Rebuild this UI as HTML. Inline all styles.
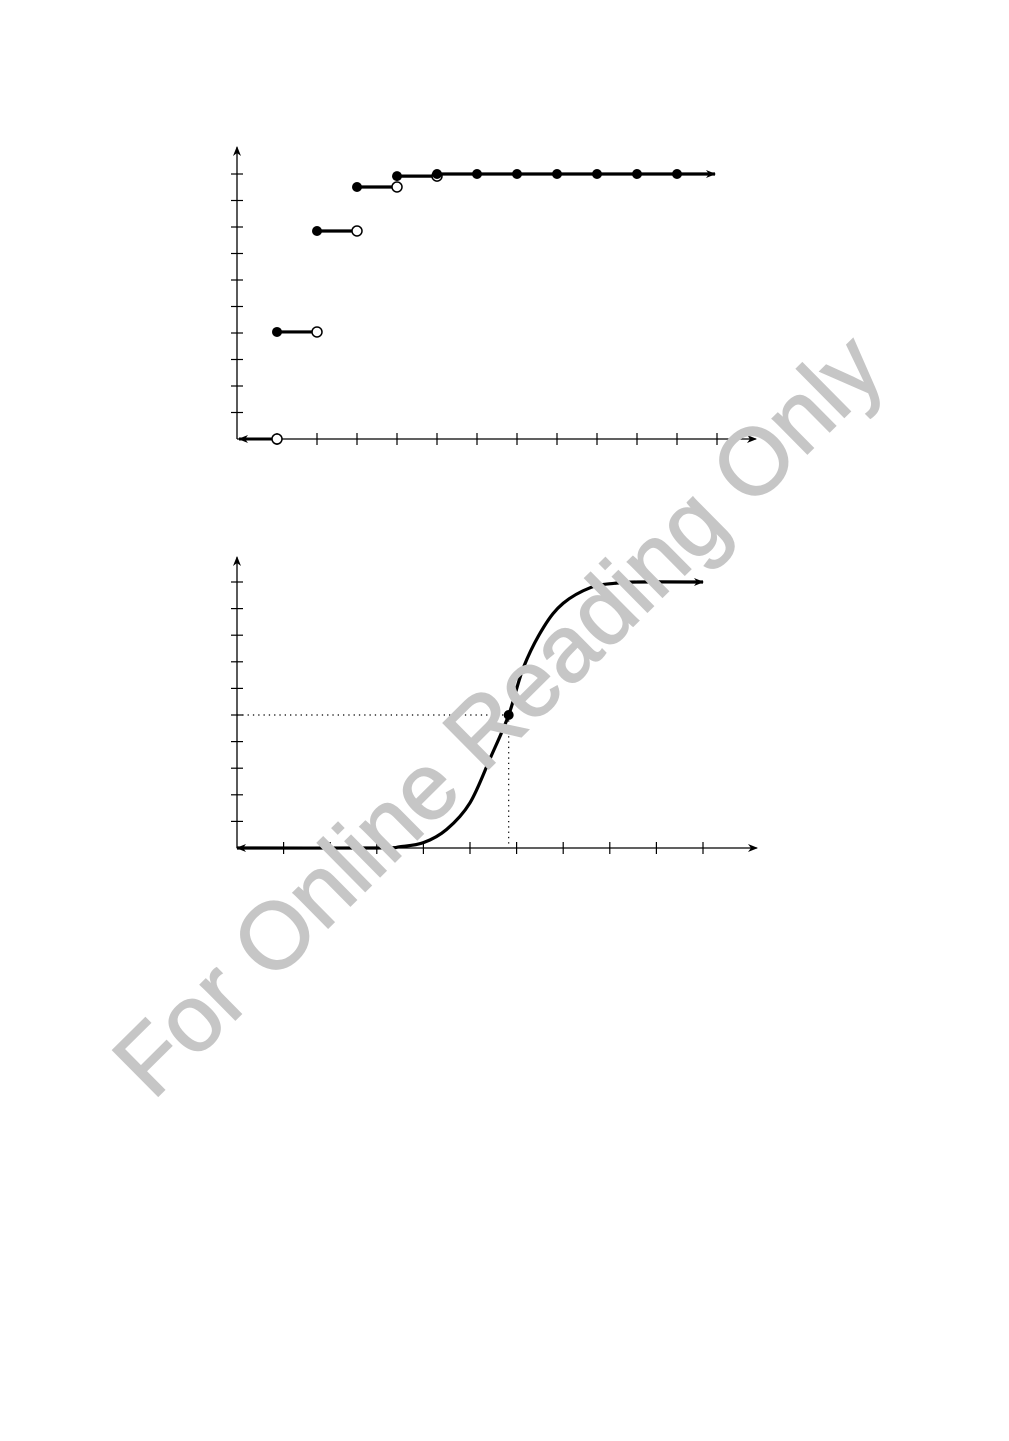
<!DOCTYPE html>
<html><head><meta charset="utf-8"><style>
html,body{margin:0;padding:0;background:#fff;}
svg{display:block;}
</style></head><body>
<svg id="svg" width="1009" height="1441" viewBox="0 0 1009 1441" xmlns="http://www.w3.org/2000/svg">
<defs>
<marker id="ah" viewBox="0 0 10 10" refX="9" refY="5" markerWidth="12" markerHeight="10" orient="auto-start-reverse" markerUnits="userSpaceOnUse"><path d="M0,1 L10,5 L0,9 L3,5 Z" fill="#000"/></marker>
</defs>
<g id="top"></g>
<g id="bot"></g>
<text x="0" y="0" transform="translate(503,720) rotate(-44.7)" text-anchor="middle" dominant-baseline="middle" font-family="'Liberation Sans',sans-serif" font-size="94" stroke="#c6c6c6" stroke-width="1.5" fill="#c6c6c6">For Online Reading Only</text>
</svg>
<script>
// Top chart data (step CDF)
const stepX = [1,2,3,4,5,6,7,8,9,10,11];
const stepY = [0.404,0.785,0.951,0.992,1,1,1,1,1,1,1];
const openX = [1,2,3,4,5];
const openY = [0,0.404,0.785,0.951,0.992];
// Bottom chart data (S-curve samples)
const curveX = [0,3,3.5,4,4.5,5,5.44,5.83,6.15,6.58,7,7.6,8.1,8.6,10];
const curveY = [0,0,0.005,0.02,0.07,0.17,0.34,0.5,0.68,0.83,0.92,0.98,0.995,1,1];
const markX = [5.83];
const markY = [0.5];

const NS='http://www.w3.org/2000/svg';
function mk(parent,tag,attrs){const e=document.createElementNS(NS,tag);for(const k in attrs)e.setAttribute(k,attrs[k]);parent.appendChild(e);return e;}

// ---- top chart ----
const T=document.getElementById('top');
const tx=v=>237+v*40, ty=v=>439-v*265;
let e;
e=mk(T,'line',{x1:237,y1:439,x2:756,y2:439,stroke:'#000','stroke-width':1.3,'marker-end':'url(#ah)'});


e=mk(T,'line',{x1:237,y1:439,x2:237,y2:147,stroke:'#000','stroke-width':1.3,'marker-end':'url(#ah)'});


for(let i=1;i<=12;i++){e=mk(T,'line',{x1:tx(i),y1:433,x2:tx(i),y2:445,stroke:'#000','stroke-width':1.2});

}
for(let i=1;i<=10;i++){e=mk(T,'line',{x1:231,y1:ty(i/10),x2:243,y2:ty(i/10),stroke:'#000','stroke-width':1.2});

}
e=mk(T,'line',{x1:tx(1),y1:ty(0),x2:239,y2:ty(0),stroke:'#000','stroke-width':3,'marker-end':'url(#ah)'});


for(let i=0;i<stepX.length;i++){
  const x2=i<stepX.length-1?tx(stepX[i]+1):715;
  e=mk(T,'line',{x1:tx(stepX[i]),y1:ty(stepY[i]),x2:x2,y2:ty(stepY[i]),stroke:'#000','stroke-width':3.2,'marker-end':i===stepX.length-1?'url(#ah)':''});
  
  
}
for(let i=0;i<openX.length;i++){
  e=mk(T,'circle',{cx:tx(openX[i]),cy:ty(openY[i]),r:5,fill:'#fff',stroke:'#000','stroke-width':1.5});
  
  
}
for(let i=0;i<stepX.length;i++){
  e=mk(T,'circle',{cx:tx(stepX[i]),cy:ty(stepY[i]),r:5,fill:'#000'});
  
  
}

// ---- bottom chart ----
const B=document.getElementById('bot');
const bx=v=>237+v*46.6, by=v=>848-v*266;
e=mk(B,'line',{x1:237,y1:848,x2:757,y2:848,stroke:'#000','stroke-width':1.3,'marker-end':'url(#ah)'});


e=mk(B,'line',{x1:237,y1:848,x2:237,y2:557,stroke:'#000','stroke-width':1.3,'marker-end':'url(#ah)'});


for(let i=1;i<=10;i++){e=mk(B,'line',{x1:bx(i),y1:842,x2:bx(i),y2:854,stroke:'#000','stroke-width':1.2});

}
for(let i=1;i<=10;i++){e=mk(B,'line',{x1:231,y1:by(i/10),x2:243,y2:by(i/10),stroke:'#000','stroke-width':1.2});

}
e=mk(B,'line',{x1:237,y1:by(markY[0]),x2:bx(markX[0]),y2:by(markY[0]),stroke:'#000','stroke-width':1.2,'stroke-dasharray':'1.3 4'});


e=mk(B,'line',{x1:bx(markX[0]),y1:by(markY[0]),x2:bx(markX[0]),y2:848,stroke:'#000','stroke-width':1.2,'stroke-dasharray':'1.3 4'});


const P=curveX.map((v,i)=>[bx(v),by(curveY[i])]);
let d='M'+P[0][0]+','+P[0][1];
for(let i=0;i<P.length-1;i++){
  const p0=P[Math.max(0,i-1)],p1=P[i],p2=P[i+1],p3=P[Math.min(P.length-1,i+2)];
  const c1=[p1[0]+(p2[0]-p0[0])/6,p1[1]+(p2[1]-p0[1])/6];
  const c2=[p2[0]-(p3[0]-p1[0])/6,p2[1]-(p3[1]-p1[1])/6];
  d+=` C${c1[0]},${c1[1]} ${c2[0]},${c2[1]} ${p2[0]},${p2[1]}`;
}
e=mk(B,'path',{d:d,fill:'none',stroke:'#000','stroke-width':3.2,'marker-end':'url(#ah)','marker-start':'url(#ah)'});


e=mk(B,'circle',{cx:bx(markX[0]),cy:by(markY[0]),r:5,fill:'#000'});


</script>
</body></html>
